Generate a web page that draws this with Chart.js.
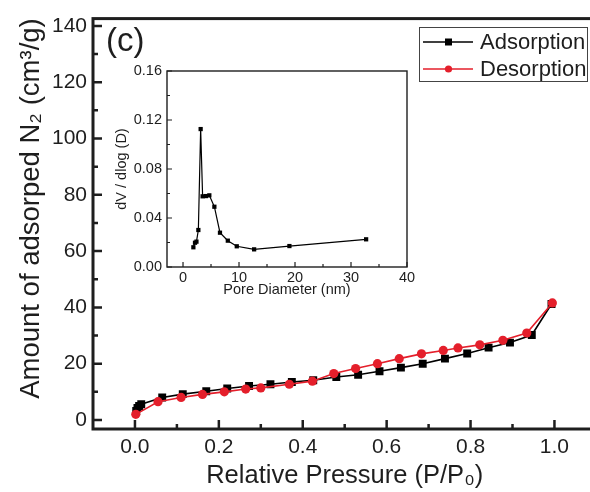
<!DOCTYPE html>
<html><head><meta charset="utf-8">
<script src="https://cdn.jsdelivr.net/npm/chart.js@4.4.1/dist/chart.umd.min.js"></script>
<style>
html,body{margin:0;padding:0;background:#fff;overflow:hidden;width:590px;height:492px;}
#wrap{position:relative;width:590px;height:492px;overflow:hidden;background:#fff;}
#main{position:absolute;left:0;top:0;}
#inset{position:absolute;left:100px;top:50px;}
</style></head><body>
<div id="wrap"><canvas id="main" width="602" height="492"></canvas><canvas id="inset" width="320" height="250"></canvas></div>
<script>
// ---- data ----
const adsP = [0.003, 0.006, 0.010, 0.015, 0.065, 0.114, 0.170, 0.220, 0.272, 0.323, 0.374, 0.425, 0.480, 0.532, 0.583, 0.634, 0.686, 0.739, 0.792, 0.843, 0.894, 0.946, 0.993];
const adsV = [3.2, 4.3, 5.0, 5.6, 8.0, 9.2, 10.2, 11.2, 12.1, 12.7, 13.5, 14.1, 15.3, 16.1, 17.3, 18.6, 20.0, 21.8, 23.6, 25.7, 27.5, 30.2, 41.2];
const desP = [0.002, 0.055, 0.110, 0.161, 0.213, 0.264, 0.300, 0.368, 0.423, 0.474, 0.526, 0.578, 0.630, 0.683, 0.735, 0.770, 0.822, 0.877, 0.934, 0.995];
const desV = [2.0, 6.5, 8.0, 9.1, 10.0, 11.0, 11.4, 12.7, 13.8, 16.5, 18.3, 20.0, 21.8, 23.5, 24.7, 25.6, 26.7, 28.3, 30.9, 41.6];
const poreD = [1.85, 2.14, 2.4, 2.74, 3.15, 3.5, 4.1, 4.7, 5.6, 6.6, 8.0, 9.6, 12.7, 19.0, 32.7];
const dVdlogD = [0.0161, 0.0198, 0.0207, 0.0302, 0.1126, 0.0577, 0.0579, 0.0585, 0.0492, 0.028, 0.0215, 0.0169, 0.0144, 0.0171, 0.0226];

const xTicks = [0.0, 0.2, 0.4, 0.6, 0.8, 1.0];
const xMinorTicks = [0.1, 0.3, 0.5, 0.7, 0.9];
const yTicks = [0, 20, 40, 60, 80, 100, 120, 140];
const yMinorTicks = [10, 30, 50, 70, 90, 110, 130];
const insetXTicks = [0, 10, 20, 30, 40];
const insetXMinor = [5, 15, 25, 35];
const insetYTicks = [0, 0.04, 0.08, 0.12, 0.16];
const insetYMinor = [0.02, 0.06, 0.10, 0.14];

const seriesNames = ['Adsorption', 'Desorption'];
const panelLabel = '(c)';
const FONT = "'Liberation Sans', Arial, sans-serif";
const RED = '#e41f2b';
const INK = '#1e1e1e';

const pts = (xs, ys) => xs.map((v, i) => ({x: v, y: ys[i]}));

function drawInwardTicks(ctx, chart, xs, ys, majorLen, minorLen, lw) {
  const a = chart.chartArea, sx = chart.scales.x, sy = chart.scales.y;
  ctx.lineWidth = lw;
  ctx.beginPath();
  xs.major.forEach(v => { const p = sx.getPixelForValue(v); ctx.moveTo(p, a.bottom); ctx.lineTo(p, a.bottom - majorLen); });
  xs.minor.forEach(v => { const p = sx.getPixelForValue(v); ctx.moveTo(p, a.bottom); ctx.lineTo(p, a.bottom - minorLen); });
  ys.major.forEach(v => { const p = sy.getPixelForValue(v); ctx.moveTo(a.left, p); ctx.lineTo(a.left + majorLen, p); });
  ys.minor.forEach(v => { const p = sy.getPixelForValue(v); ctx.moveTo(a.left, p); ctx.lineTo(a.left + minorLen, p); });
  ctx.stroke();
}

const mainDeco = {
  id: 'mainDeco',
  beforeDatasetsDraw(chart) {
    const ctx = chart.ctx, a = chart.chartArea;
    ctx.save();
    ctx.strokeStyle = INK;
    ctx.lineWidth = 3;
    ctx.strokeRect(a.left, a.top, a.right - a.left, a.bottom - a.top);
    drawInwardTicks(ctx, chart, {major: xTicks, minor: xMinorTicks}, {major: yTicks, minor: yMinorTicks}, 9, 5, 2.5);
    ctx.fillStyle = INK;
    ctx.font = '33px ' + FONT;
    ctx.textBaseline = 'alphabetic';
    ctx.textAlign = 'left';
    ctx.fillText(panelLabel, 106, 51);
    ctx.restore();
  },
  afterDraw(chart) {
    const ctx = chart.ctx;
    ctx.save();
    ctx.strokeStyle = '#444';
    ctx.lineWidth = 1;
    ctx.strokeRect(419.5, 27.5, 168, 54);
    const ds = chart.data.datasets;
    const rows = [42, 69];
    ds.forEach((d, i) => {
      const y = rows[i];
      ctx.strokeStyle = d.borderColor;
      ctx.lineWidth = 1.3;
      ctx.beginPath(); ctx.moveTo(423, y); ctx.lineTo(473, y); ctx.stroke();
      ctx.fillStyle = d.pointBackgroundColor;
      if (d.pointStyle === 'rect') { ctx.fillRect(445, y - 3.5, 7, 7); }
      else { ctx.beginPath(); ctx.arc(448.5, y, 3.6, 0, Math.PI * 2); ctx.fill(); }
      ctx.fillStyle = INK;
      ctx.font = '22px ' + FONT;
      ctx.textBaseline = 'middle';
      ctx.textAlign = 'left';
      ctx.fillText(d.label, 480, y + 1);
    });
    ctx.restore();
  }
};

new Chart(document.getElementById('main'), {
  type: 'scatter',
  data: {
    datasets: [
      {label: seriesNames[0], data: pts(adsP, adsV), showLine: true, order: 2, borderColor: '#000', backgroundColor: '#000',
       pointBackgroundColor: '#000', pointBorderColor: '#000', pointStyle: 'rect', pointRadius: 5.6, borderWidth: 1.6, pointBorderWidth: 0},
      {label: seriesNames[1], data: pts(desP, desV), showLine: true, order: 1, borderColor: RED, backgroundColor: RED,
       pointBackgroundColor: RED, pointBorderColor: RED, pointStyle: 'circle', pointRadius: 4.6, borderWidth: 1.6, pointBorderWidth: 0}
    ]
  },
  options: {
    responsive: false, animation: false, devicePixelRatio: 1,
    layout: {padding: {top: 16, right: 2, left: 0, bottom: 0}},
    plugins: {legend: {display: false}, tooltip: {enabled: false}},
    scales: {
      x: {
        type: 'linear', min: -0.1, max: 1.1,
        afterFit: s => { s.height = 63; },
        afterBuildTicks: s => { s.ticks = xTicks.map(v => ({value: v})); },
        grid: {display: false, drawTicks: false}, border: {display: false},
        ticks: {padding: 6, color: INK, font: {family: FONT, size: 21}, callback: v => v.toFixed(1), maxRotation: 0, autoSkip: false},
        title: {display: true, text: 'Relative Pressure (P/P\u2080)', color: INK, font: {family: FONT, size: 25.5}, padding: {top: 0, bottom: 1}}
      },
      y: {
        type: 'linear', min: -3.2, max: 142.6,
        afterFit: s => { s.width = 93; },
        afterBuildTicks: s => { s.ticks = yTicks.map(v => ({value: v})); },
        grid: {display: false, drawTicks: false}, border: {display: false},
        ticks: {padding: 6, color: INK, font: {family: FONT, size: 21}, callback: v => String(v)},
        title: {display: true, text: '    Amount of adsorped N\u2082 (cm\u00B3/g)', color: INK, font: {family: FONT, size: 27.5}, padding: {top: 15, bottom: 0}}
      }
    }
  },
  plugins: [mainDeco]
});

const insetDeco = {
  id: 'insetDeco',
  beforeDatasetsDraw(chart) {
    const ctx = chart.ctx, a = chart.chartArea;
    ctx.save();
    ctx.strokeStyle = INK;
    ctx.lineWidth = 1.4;
    ctx.strokeRect(a.left, a.top, a.right - a.left, a.bottom - a.top);
    drawInwardTicks(ctx, chart, {major: insetXTicks, minor: insetXMinor}, {major: insetYTicks, minor: insetYMinor}, 5, 3, 1.2);
    ctx.restore();
  }
};

new Chart(document.getElementById('inset'), {
  type: 'scatter',
  data: {
    datasets: [
      {label: 'PSD', data: pts(poreD, dVdlogD), showLine: true, borderColor: '#000', backgroundColor: '#000',
       pointBackgroundColor: '#000', pointStyle: 'rect', pointRadius: 3, borderWidth: 1.2, pointBorderWidth: 0}
    ]
  },
  options: {
    responsive: false, animation: false, devicePixelRatio: 1,
    layout: {padding: {top: 21, right: 13, left: 0, bottom: 0}},
    plugins: {legend: {display: false}, tooltip: {enabled: false}},
    scales: {
      x: {
        type: 'linear', min: -2.86, max: 40,
        afterFit: s => { s.height = 33; },
        afterBuildTicks: s => { s.ticks = insetXTicks.map(v => ({value: v})); },
        grid: {display: false, drawTicks: false}, border: {display: false},
        ticks: {padding: 2, color: INK, font: {family: FONT, size: 14.5}, callback: v => String(v), maxRotation: 0, autoSkip: false},
        title: {display: true, text: 'Pore Diameter (nm)', color: INK, font: {family: FONT, size: 14.5}, padding: {top: 0, bottom: 1}}
      },
      y: {
        type: 'linear', min: 0, max: 0.16,
        afterFit: s => { s.width = 67; },
        afterBuildTicks: s => { s.ticks = insetYTicks.map(v => ({value: v})); },
        grid: {display: false, drawTicks: false}, border: {display: false},
        ticks: {padding: 5, color: INK, font: {family: FONT, size: 14.5}, callback: v => v.toFixed(2)},
        title: {display: true, text: 'dV / dlog (D)', color: INK, font: {family: FONT, size: 14.5}, padding: {top: 13, bottom: 0}}
      }
    }
  },
  plugins: [insetDeco]
});
</script>
</body></html>
